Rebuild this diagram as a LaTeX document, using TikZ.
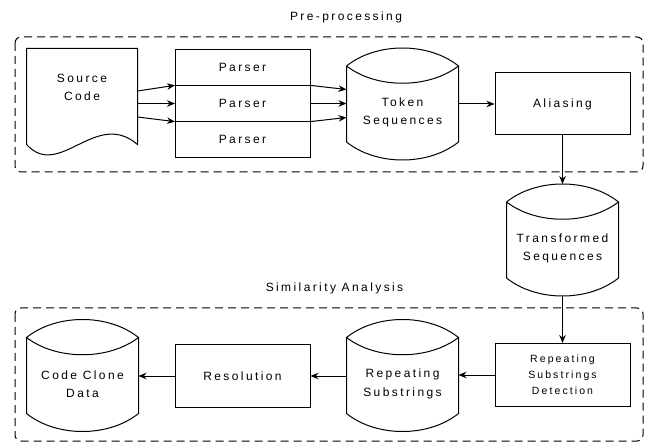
\documentclass[tikz,border=0pt]{standalone}
\usepackage{fontspec}
\setmainfont{Liberation Sans}[LetterSpace=20]
\usetikzlibrary{positioning,calc,arrows.meta}

% drum with a lens top, drawn round a (text) node
\newcommand{\drawstore}[1]{%
	\draw ($(#1.north west)+(0,-17)$) coordinate (#1-tl)
		-- (#1.south west) .. controls +(30,24) and +(-30,24) .. (#1.south east)
		-- ($(#1.north east)+(0,-17)$) coordinate (#1-tr)
		.. controls +(-30,-24) and +(30,-24) .. (#1-tl)
		.. controls +(30,23) and +(-30,23) .. (#1-tr);
	\coordinate (#1-top) at ($(#1.north)+(0,-35)$);
	\coordinate (#1-bot) at ($(#1.south)+(0,18)$);
}

\begin{document}
\begin{tikzpicture}[x=1pt,y=-1pt,line width=1pt,>={Stealth[length=8pt,width=6.5pt]}]
	\tikzstyle{every node}=[font=\fontsize{12}{18.5}\selectfont,align=center]
	\tikzstyle{box}=[draw,minimum width=135pt,minimum height=62pt]
	\tikzstyle{parser}=[draw,minimum width=135pt,minimum height=36.3pt,outer sep=0pt]
	\tikzstyle{store}=[minimum width=111pt,minimum height=58pt,inner sep=0pt]
	\tikzstyle{stage}=[draw,dash pattern=on 8pt off 5pt,rounded corners=6pt]
	\tikzstyle{flow}=[->]
	\useasboundingbox (0,0) rectangle (653,443);

	% the two stages
	\draw[stage] (15,37) rectangle (643,172);
	\draw[stage] (15,308) rectangle (643,441);
	\node (pre) at (346,17) {Pre-processing};
	\node (sim) at (334.5,288) {Similarity Analysis};

	% input document
	\node[minimum width=110pt,minimum height=77pt,inner sep=0pt] (src) at (82,87.5) {Source\\Code};
	\draw (src.north west) -- (src.north east) -- ($(src.south east)+(0,18)$)
		.. controls +(-42,-36) and +(33,36) .. ($(src.south west)+(0,18)$) -- cycle;

	% parser stack
	\node[parser] (p2) at (242.5,103.5) {Parser};
	\node[parser,above=0pt of p2] (p1) {Parser};
	\node[parser,below=0pt of p2] (p3) {Parser};

	\node[store] (tok) at (402.5,112.5) {Token\\Sequences};
	\drawstore{tok}
	\node[box] (alias) at (562.5,104) {Aliasing};
	\node[store] (trans) at (562.5,248.5) {Transformed\\Sequences};
	\drawstore{trans}
	\node[box,minimum height=63pt,font=\fontsize{10.5}{16}\selectfont] (det) at (562.5,375) {Repeating\\Substrings\\Detection};
	\node[store] (rep) at (402.5,384) {Repeating\\Substrings};
	\drawstore{rep}
	\node[box] (res) at (242.5,376) {Resolution};
	\node[store] (ccd) at (82.5,384) {Code Clone\\Data};
	\drawstore{ccd}

	% connectors
	\draw[flow] ($(src.east |- p2.west)+(0,-12.5)$) -- (p2.north west);
	\draw[flow] (src.east |- p2.west) -- (p2.west);
	\draw[flow] ($(src.east |- p2.west)+(0,13.5)$) -- (p2.south west);
	\draw[flow] (p2.north east) -- ($(tok.west |- p2.east)+(0,-14)$);
	\draw[flow] (p2.east) -- (tok.west |- p2.east);
	\draw[flow] (p2.south east) -- ($(tok.west |- p2.east)+(0,14)$);
	\draw[flow] (tok.east |- alias.west) -- (alias.west);
	\draw[flow] (alias.south) -- (trans-top);
	\draw[flow] (trans-bot) -- (det.north);
	\draw[flow] (det.west) -- (rep.east |- det.west);
	\draw[flow] (rep.west |- res.east) -- (res.east);
	\draw[flow] (res.west) -- (ccd.east |- res.west);
\end{tikzpicture}
\end{document}
